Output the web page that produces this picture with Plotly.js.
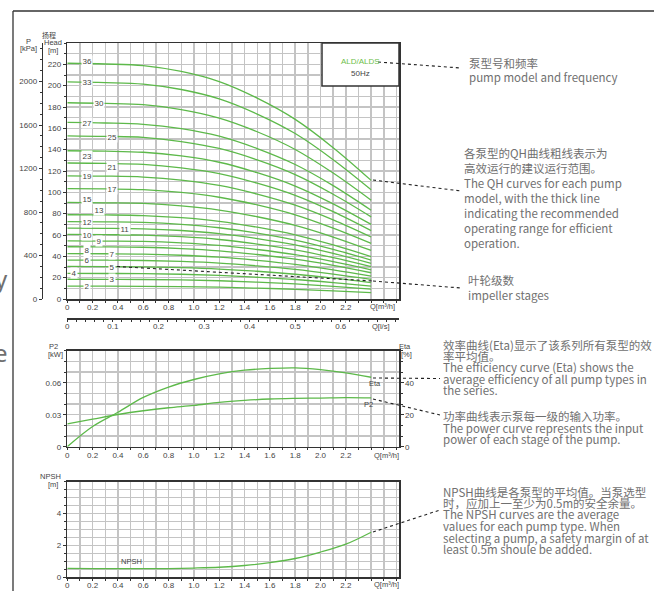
<!DOCTYPE html>
<html><head><meta charset="utf-8">
<script src="https://cdn.plot.ly/plotly-3.0.1.min.js"></script>
<style>html,body{margin:0;padding:0;background:#fff}#chart{width:654px;height:591px}</style>
</head><body><div id="chart"></div>
<script>
// ---------- DATA ----------
const flowQ = [0, 0.3, 0.6, 0.9, 1.2, 1.5, 1.8, 2.1, 2.4];           // m3/h
const stages = [2,3,4,5,6,7,8,9,10,11,12,13,15,17,19,21,23,25,27,30,33,36];
const headCurves = [
  [12, 12.0, 11.9, 11.6, 11.1, 10.2, 9.1, 7.7, 6.0],
  [18.5, 18.4, 18.3, 17.9, 17.1, 15.8, 14.1, 11.9, 9.3],
  [24, 23.9, 23.8, 23.2, 22.1, 20.4, 18.3, 15.4, 12.1],
  [30.5, 30.4, 30.2, 29.4, 28.1, 26.0, 23.2, 19.6, 15.3],
  [36.5, 36.4, 36.1, 35.2, 33.7, 31.1, 27.8, 23.4, 18.4],
  [42.5, 42.4, 42.1, 41.0, 39.2, 36.2, 32.4, 27.3, 21.4],
  [49, 48.9, 48.5, 47.3, 45.2, 41.7, 37.3, 31.5, 24.6],
  [54.5, 54.3, 54.0, 52.6, 50.2, 46.4, 41.5, 35.0, 27.4],
  [60.5, 60.3, 59.9, 58.4, 55.8, 51.5, 46.1, 38.8, 30.4],
  [66.5, 66.3, 65.8, 64.2, 61.3, 56.7, 50.7, 42.7, 33.4],
  [72.5, 72.3, 71.8, 70.0, 66.8, 61.8, 55.2, 46.5, 36.5],
  [79, 78.8, 78.2, 76.2, 72.8, 67.3, 60.2, 50.7, 39.7],
  [90.5, 90.2, 89.6, 87.3, 83.4, 77.1, 69.0, 58.1, 45.5],
  [103.5, 103.2, 102.5, 99.9, 95.4, 88.2, 78.9, 66.4, 52.1],
  [115.5, 115.2, 114.3, 111.5, 106.5, 98.4, 88.0, 74.2, 58.1],
  [127.5, 127.1, 126.2, 123.0, 117.6, 108.6, 97.2, 81.9, 64.1],
  [139, 138.6, 137.6, 134.1, 128.2, 118.4, 105.9, 89.2, 69.9],
  [153, 152.5, 151.5, 147.6, 141.1, 130.4, 116.6, 98.2, 77.0],
  [165.5, 165.0, 163.8, 159.7, 152.6, 141.0, 126.1, 106.3, 83.2],
  [184, 183.4, 182.2, 177.6, 169.6, 156.8, 140.2, 118.1, 92.6],
  [203.5, 202.9, 201.5, 196.4, 187.6, 173.4, 155.1, 130.6, 102.4],
  [221, 220.3, 218.8, 213.3, 203.8, 188.3, 168.4, 141.9, 111.2]
];
const perfQ = [0, 0.2, 0.4, 0.6, 0.8, 1.0, 1.2, 1.4, 1.6, 1.8, 2.0, 2.2, 2.4];
const etaPct = [0, 12.6, 21.5, 30.8, 37.3, 42.0, 45.5, 47.8, 48.9, 49.3, 48.2, 46.2, 43.4];
const p2kW = [0.0214, 0.0258, 0.0302, 0.0337, 0.0365, 0.0387, 0.0415, 0.0434, 0.0447, 0.0453, 0.0456, 0.0460, 0.0458];
const npshM = [0.56, 0.55, 0.55, 0.55, 0.55, 0.58, 0.63, 0.74, 0.92, 1.18, 1.58, 2.08, 2.83];

const qTicks = [0, 0.2, 0.4, 0.6, 0.8, 1.0, 1.2, 1.4, 1.6, 1.8, 2.0, 2.2];
const qTickText = ['0','0.2','0.4','0.6','0.8','1.0','1.2','1.4','1.6','1.8','2.0','2.2'];
const qlsTicks = [0, 0.1, 0.2, 0.3, 0.4, 0.5, 0.6];
const qlsTickText = ['0','0.1','0.2','0.3','0.4','0.5','0.6'];
const headTicks = [0,20,40,60,80,100,120,140,160,180,200,220];
const pTicks = [0,400,800,1200,1600,2000];
const p2Ticks = [0, 0.03, 0.06];
const p2TickText = ['0','0.03','0.06'];
const etaTicks = [0, 20, 40];
const npshTicks = [0, 2, 4];

const modelName = 'ALD/ALDS';
const freqName = '50Hz';

const notesTop = [
  ['泵型号和频率', 'pump model and frequency'],
  ['各泵型的QH曲线粗线表示为', '高效运行的建议运行范围。', 'The QH curves for each pump', 'model, with the thick line', 'indicating the recommended', 'operating range for efficient', 'operation.'],
  ['叶轮级数', 'impeller stages']
];
const notesLow = [
  ['效率曲线(Eta)显示了该系列所有泵型的效', '率平均值。', 'The efficiency curve (Eta) shows the', 'average efficiency of all pump types in', 'the series.'],
  ['功率曲线表示泵每一级的输入功率。', 'The power curve represents the input', 'power of each stage of the pump.'],
  ['NPSH曲线是各泵型的平均值。当泵选型', '时，应加上一至少为0.5m的安全余量。', 'The NPSH curves are the average', 'values for each pump type. When', 'selecting a pump, a safety margin of at', 'least 0.5m shoule be added.']
];

// ---------- LAYOUT HELPERS (positions/styles) ----------
const W = 654, H = 591;
const px = x => x / W;
const py = y => 1 - y / H;
const GREEN = '#5db94a';
const GRID = '#c4c4c4';
const AX = '#333';
const TICKFONT = {family: 'Liberation Sans, Arial, sans-serif', size: 8, color: '#444'};
const NOTEFONT = 'Noto Sans CJK SC, Noto Sans, sans-serif';
const X0 = 67.3, X1 = 399;
const QMAX = 2.62;
const xDom = [px(X0), px(X1)];
const topDom = [py(299), py(43)];
const midDom = [py(446.7), py(350.7)];
const botDom = [py(577.3), py(481.7)];

// label positions for stage numbers (Q) and vertical offsets
const labelQpos = {36:0.154,33:0.154,30:0.254,27:0.154,25:0.354,23:0.154,21:0.354,19:0.154,17:0.354,15:0.154,13:0.254,12:0.154,11:0.457,10:0.154,9:0.254,8:0.154,7:0.354,6:0.154,5:0.354,4:0.053,3:0.354,2:0.154};
const labelShift = {36:3,23:-5,21:-3,15:4,13:5,8:-3};

function interp(xs, ys, x){
  for (let i=0;i<xs.length-1;i++){
    if (x>=xs[i] && x<=xs[i+1]){ const t=(x-xs[i])/(xs[i+1]-xs[i]); return ys[i]+t*(ys[i+1]-ys[i]); }
  }
  return ys[ys.length-1];
}

function xAxis(anchor){
  return {
    domain: xDom, anchor: anchor, range: [0, QMAX],
    tickmode: 'array', tickvals: qTicks, ticktext: qTickText,
    showgrid: true, gridcolor: GRID, gridwidth: 1.4,
    minor: {tick0: 0, dtick: 0.1, showgrid: true, gridcolor: GRID, gridwidth: 1.4, ticks: 'outside', ticklen: 2, tickcolor: AX},
    ticks: 'outside', ticklen: 2, tickcolor: AX, tickwidth: 1,
    showline: true, linecolor: AX, linewidth: 1.5, mirror: true,
    zeroline: false, tickfont: TICKFONT, fixedrange: true
  };
}
function yAxis(anchor, dom, range, tv, tt, minorDt){
  return {
    domain: dom, anchor: anchor, range: range,
    tickmode: 'array', tickvals: tv, ticktext: tt,
    showgrid: true, gridcolor: GRID, gridwidth: 1.4,
    minor: {tick0: 0, dtick: minorDt, showgrid: true, gridcolor: GRID, gridwidth: 1.4, ticks: 'outside', ticklen: 2, tickcolor: AX},
    ticks: 'outside', ticklen: 3, tickcolor: AX,
    showline: true, linecolor: AX, linewidth: 1.5, mirror: true,
    zeroline: false, tickfont: TICKFONT, fixedrange: true
  };
}

// ---------- TRACES ----------
const traces = [];
stages.forEach((s, i) => {
  traces.push({x: flowQ, y: headCurves[i], xaxis: 'x', yaxis: 'y', mode: 'lines',
    line: {color: GREEN, width: 1.3, shape: 'spline', smoothing: 1}, hoverinfo: 'skip', showlegend: false});
});
// helper traces so that the secondary axes (kPa and l/s) get drawn
traces.push({x: flowQ, y: headCurves[stages.length-1].map(h => h*9.81), xaxis: 'x', yaxis: 'y2', mode: 'lines',
  line: {color: 'rgba(0,0,0,0)', width: 0}, hoverinfo: 'skip', showlegend: false});
traces.push({x: flowQ.map(q => q/3.6), y: headCurves[stages.length-1], xaxis: 'x4', yaxis: 'y', mode: 'lines',
  line: {color: 'rgba(0,0,0,0)', width: 0}, hoverinfo: 'skip', showlegend: false});

traces.push({x: perfQ, y: p2kW, xaxis: 'x2', yaxis: 'y3', mode: 'lines',
  line: {color: GREEN, width: 1.3, shape: 'spline', smoothing: 1}, hoverinfo: 'skip', showlegend: false});
traces.push({x: perfQ, y: etaPct, xaxis: 'x2', yaxis: 'y4', mode: 'lines',
  line: {color: GREEN, width: 1.3, shape: 'spline', smoothing: 1}, hoverinfo: 'skip', showlegend: false});
traces.push({x: perfQ, y: npshM, xaxis: 'x3', yaxis: 'y5', mode: 'lines',
  line: {color: GREEN, width: 1.3, shape: 'spline', smoothing: 1}, hoverinfo: 'skip', showlegend: false});

// ---------- ANNOTATIONS ----------
const ann = [];
function txt(x, y, t, opt){
  ann.push(Object.assign({xref: 'paper', yref: 'paper', x: px(x), y: py(y), text: t, showarrow: false,
    xanchor: 'center', yanchor: 'middle', font: {family: 'Liberation Sans, Arial, sans-serif', size: 7.5, color: '#444'}}, opt || {}));
}
// stage labels
stages.forEach((s, i) => {
  const q = labelQpos[s];
  ann.push({xref: 'x', yref: 'y', x: q, y: interp(flowQ, headCurves[i], q), text: String(s), showarrow: false,
    xanchor: 'center', yanchor: 'middle', yshift: labelShift[s] || 0, bgcolor: '#fff', borderpad: 0.5,
    font: {family: 'Liberation Sans, Arial, sans-serif', size: 8, color: '#444'}});
});
// axis titles
txt(28.3, 41.5, 'P'); txt(28.3, 48.5, '[kPa]');
txt(49, 35.5, '扬程', {font: {family: NOTEFONT, size: 7, color: '#444'}});
txt(52.5, 42.5, 'Head'); txt(53, 50.5, '[m]');
txt(382, 306.5, 'Q[m³/h]'); txt(381, 326, 'Q[l/s]');
txt(53, 346, 'P2'); txt(55, 354, '[kW]');
txt(405, 346, 'Eta'); txt(406.5, 354, '[%]');
txt(375, 384, 'Eta'); txt(369, 404, 'P2');
txt(386, 455.5, 'Q[m³/h]');
txt(50, 476, 'NPSH'); txt(53, 484.5, '[m]');
txt(131, 561, 'NPSH');
txt(386, 584.5, 'Q[m³/h]');
// model box text
txt(360, 61, modelName, {font: {family: 'Liberation Sans, Arial, sans-serif', size: 8, color: '#6cc04a'}});
txt(360, 73, freqName, {font: {family: 'Liberation Sans, Arial, sans-serif', size: 8, color: '#444'}});
// side notes
const noteOpt = {xanchor: 'left', font: {family: NOTEFONT, size: 11.5, color: '#707070'}};
[[467, [63.3, 77.5]], [462.3, [152.7, 167.7, 183.3, 197.7, 212.7, 228.3, 243.3]], [465.7, [279.5, 295]]].forEach((b, bi) => {
  notesTop[bi].forEach((line, li) => txt(b[0], b[1][li], line, noteOpt));
});
const noteOpt2 = {xanchor: 'left', font: {family: NOTEFONT, size: 11.5, color: '#707070'}};
[[441, [344.5, 355.5, 366.7, 379, 390]], [441, [416, 427.7, 439.3]], [441, [491.5, 502.7, 514, 526, 537.5, 549]]].forEach((b, bi) => {
  notesLow[bi].forEach((line, li) => txt(b[0], b[1][li], line, noteOpt2));
});
// cut-off letters at left
txt(10, 278, 'y', {xanchor: 'right', font: {family: 'Noto Sans, sans-serif', size: 24, color: '#707070'}});
txt(10, 352, 'e', {xanchor: 'right', font: {family: 'Noto Sans, sans-serif', size: 24, color: '#707070'}});

// ---------- SHAPES ----------
const shapes = [];
function seg(x0, y0, x1, y1, dash, color, w){
  shapes.push({type: 'line', xref: 'paper', yref: 'paper', x0: px(x0), y0: py(y0), x1: px(x1), y1: py(y1),
    line: {color: color || '#222', width: w || 1.1, dash: dash || 'dot'}, layer: 'above'});
}
seg(13, 11, 13, 591, 'solid', '#333', 1.3);
seg(13, 11, 654, 11, 'solid', '#333', 1.3);
shapes.push({type: 'rect', xref: 'paper', yref: 'paper', x0: px(322), y0: py(86), x1: px(399), y1: py(43),
  fillcolor: '#fff', line: {color: '#333', width: 1.5}, layer: 'above'});
seg(378, 62, 461, 68);
seg(373, 180, 461, 191);
seg(117, 266.5, 373, 281);
seg(373, 281, 461, 288);
seg(373, 378, 440, 378.5);
seg(373, 399, 440, 415);
seg(373, 532, 440, 510);

// ---------- LAYOUT ----------
const layout = {
  width: W, height: H, margin: {l: 0, r: 0, t: 0, b: 0},
  paper_bgcolor: '#fff', plot_bgcolor: '#fff', showlegend: false,
  xaxis: xAxis('y'),
  yaxis: yAxis('x', topDom, [0, 240], headTicks, headTicks.map(String), 10),
  yaxis2: {overlaying: 'y', anchor: 'free', position: px(41.7), side: 'left', range: [0, 240*9.81],
    tickmode: 'array', tickvals: pTicks, ticktext: pTicks.map(String), showgrid: false, zeroline: false,
    minor: {tick0: 0, dtick: 100, ticks: 'outside', ticklen: 2, tickcolor: AX, showgrid: false},
    ticks: 'outside', ticklen: 3, tickcolor: AX, showline: true, linecolor: AX, linewidth: 1.5, tickfont: TICKFONT, fixedrange: true},
  xaxis4: {overlaying: 'x', anchor: 'free', position: py(318), side: 'bottom', range: [0, QMAX/3.6],
    tickmode: 'array', tickvals: qlsTicks, ticktext: qlsTickText, showgrid: false, zeroline: false,
    minor: {tick0: 0, dtick: 0.02, ticks: 'outside', ticklen: 2, tickcolor: AX, showgrid: false},
    ticks: 'outside', ticklen: 2, tickcolor: AX, showline: true, linecolor: AX, linewidth: 1.5, tickfont: TICKFONT, fixedrange: true},
  xaxis2: xAxis('y3'),
  yaxis3: yAxis('x2', midDom, [0, 0.09], p2Ticks, p2TickText, 0.01),
  yaxis4: {overlaying: 'y3', anchor: 'x2', side: 'right', range: [0, 60],
    tickmode: 'array', tickvals: etaTicks, ticktext: etaTicks.map(String), showgrid: false, zeroline: false,
    minor: {tick0: 0, dtick: 20/3, ticks: 'outside', ticklen: 2, tickcolor: AX, showgrid: false},
    ticks: 'outside', ticklen: 3, tickcolor: AX, showline: true, linecolor: AX, linewidth: 1.5, tickfont: TICKFONT, fixedrange: true},
  xaxis3: xAxis('y5'),
  yaxis5: yAxis('x3', botDom, [0, 6], npshTicks, npshTicks.map(String), 0.5),
  annotations: ann, shapes: shapes
};
['xaxis','xaxis2','xaxis3','xaxis4'].forEach(k => { layout[k].ticklabelstandoff = -2; });

Plotly.newPlot('chart', traces, layout, {staticPlot: true, displayModeBar: false});
</script></body></html>
